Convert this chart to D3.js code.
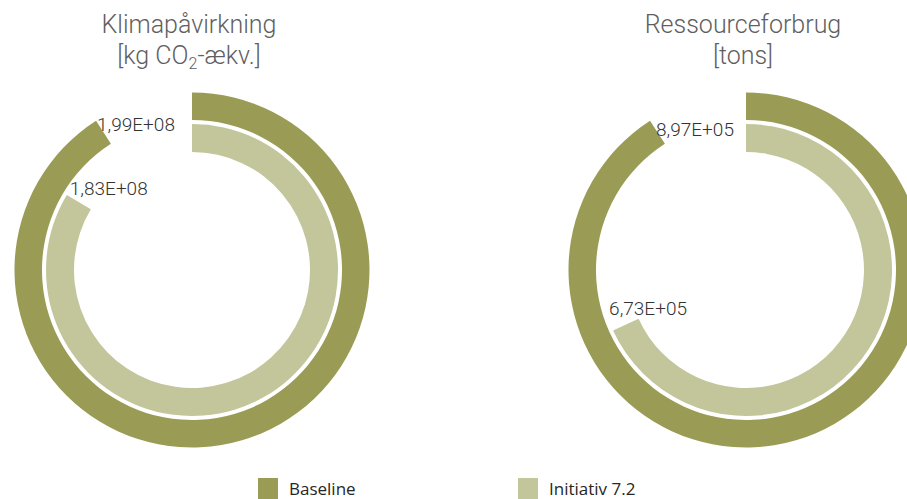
<!DOCTYPE html>
<html>
<head>
<meta charset="utf-8">
<script src="https://cdn.jsdelivr.net/npm/d3@7"></script>
<style>
  html, body { margin: 0; padding: 0; background: #fff; overflow: hidden; }
  svg { display: block; }
</style>
</head>
<body>
<svg id="chart" width="907" height="499"></svg>
<script>
// ---- Data ----
const charts = ["Klimapåvirkning", "Ressourceforbrug"];
const units = ["kg CO2-ækv.", "tons"];
const seriesNames = ["Baseline", "Initiativ 7.2"];
const baselineValues = [1.99e8, 8.97e5];
const initiativeValues = [1.83e8, 6.73e5];
const valueLabels = [["1,99E+08", "1,83E+08"], ["8,97E+05", "6,73E+05"]];

// ---- Layout / style ----
const W = 907, H = 499;
const colors = ["#9a9c55", "#c3c59a"];
const centersX = [192, 746];
const centerY = 270;
const ringRadii = [[150, 177.5], [118, 146]]; // baseline outer ring, initiative inner ring
const labelNudge = [[[1, 10], [3, 0]], [[6, 15], [-4, -15]]];

const svg = d3.select("#chart");

charts.forEach((name, i) => {
  const values = [baselineValues[i], initiativeValues[i]];
  const maxVal = baselineValues[i] * 1.1;
  const angle = d3.scaleLinear().domain([0, maxVal]).range([0, 2 * Math.PI]);
  const g = svg.append("g").attr("transform", `translate(${centersX[i]},${centerY})`);

  values.forEach((v, s) => {
    const arc = d3.arc()
      .innerRadius(ringRadii[s][0])
      .outerRadius(ringRadii[s][1])
      .startAngle(0)
      .endAngle(angle(v));
    g.append("path").attr("d", arc()).attr("fill", colors[s]);

    const a = angle(v);
    const r = ringRadii[s][1];
    const px = r * Math.sin(a) + labelNudge[i][s][0];
    const py = -r * Math.cos(a) + labelNudge[i][s][1];
    g.append("text")
      .attr("x", px).attr("y", py)
      .attr("font-family", "Roboto, sans-serif")
      .attr("font-size", 19)
      .attr("font-weight", 300)
      .attr("fill", "#333")
      .text(valueLabels[i][s]);
  });

  // Titles
  const tx = centersX[i] - 3;
  svg.append("text")
    .attr("x", tx).attr("y", 33)
    .attr("text-anchor", "middle")
    .attr("font-family", "Roboto, sans-serif")
    .attr("font-size", 25)
    .attr("font-weight", 300)
    .attr("fill", "#5f5f5f")
    .text(name);
  const t2 = svg.append("text")
    .attr("x", tx).attr("y", 64)
    .attr("text-anchor", "middle")
    .attr("font-family", "Roboto, sans-serif")
    .attr("font-size", 25)
    .attr("font-weight", 300)
    .attr("fill", "#5f5f5f");
  const u = units[i];
  const subIdx = u.indexOf("CO2");
  if (subIdx >= 0) {
    t2.append("tspan").text("[" + u.slice(0, subIdx + 2));
    t2.append("tspan").attr("font-size", 16).attr("dy", 5).text("2");
    t2.append("tspan").attr("dy", -5).text(u.slice(subIdx + 3) + "]");
  } else {
    t2.text("[" + u + "]");
  }
});

// Legend
const legendX = [258, 518];
seriesNames.forEach((n, s) => {
  svg.append("rect")
    .attr("x", legendX[s]).attr("y", 478)
    .attr("width", 20).attr("height", 21)
    .attr("fill", colors[s]);
  svg.append("text")
    .attr("x", legendX[s] + 31).attr("y", 495)
    .attr("font-family", "'Open Sans', sans-serif")
    .attr("font-size", 17)
    .attr("fill", "#262626")
    .text(n);
});
</script>
</body>
</html>
